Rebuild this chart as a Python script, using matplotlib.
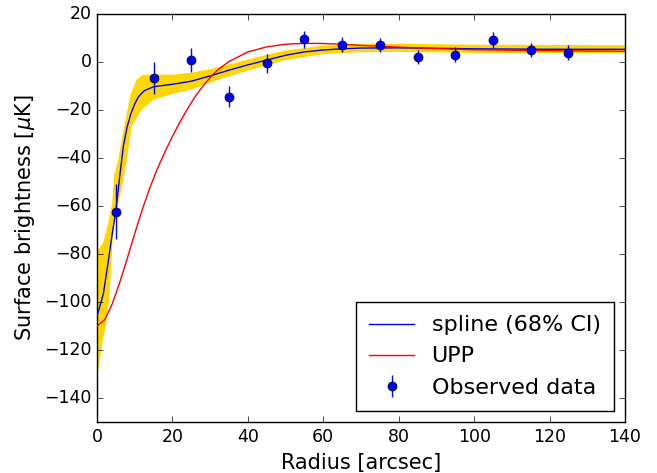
import numpy as np
import matplotlib
matplotlib.use("Agg")
import matplotlib.pyplot as plt

plt.style.use("classic")
plt.rcParams["mathtext.fontset"] = "dejavusans"

# Observed data
obs_r = [5, 15, 25, 35, 45, 55, 65, 75, 85, 95, 105, 115, 125]
obs_y = [-62.4, -6.7, 1.0, -14.4, -0.5, 9.4, 7.2, 7.2, 2.1, 3.1, 9.2, 5.0, 3.9]
obs_err = [11.5, 6.5, 5.0, 4.4, 4.0, 3.7, 3.2, 3.0, 3.0, 3.0, 3.2, 3.0, 3.0]

# Spline (median)
spl_r = [0, 1.7, 3, 4, 5, 6, 7, 8, 9, 10, 11, 12.5, 15, 20, 25, 30, 35, 40, 45,
         50, 55, 60, 65, 70, 80, 90, 100, 120, 140]
spl_y = [-106, -96.5, -83, -72, -62, -48, -35, -27, -21.5, -17.5, -14.5, -12,
         -10.3, -9.3, -8, -5.8, -3.4, -1.2, 0.8, 2.8, 4.2, 5.0, 5.5, 5.8, 5.9,
         5.7, 5.5, 5.3, 5.3]

# 68% CI band edges
ci_up_r = [0, 1.7, 3, 4, 4.6, 5.6, 7.2, 9, 10.5, 12, 15, 20, 25, 30, 35, 40,
           45, 50, 60, 70, 80, 100, 140]
ci_up_y = [-79, -75, -67, -59, -47, -41, -27, -13, -7.5, -5.4, -5.2, -5.3,
           -4.5, -3, -1, 1, 3, 4.8, 6.8, 7.6, 7.6, 7.2, 7.0]
ci_lo_r = [0, 1.5, 2.4, 3.3, 3.7, 4.2, 4.8, 5.2, 6.5, 7.9, 9.2, 11.8, 14.9,
           20.7, 25, 30, 35, 40, 50, 60, 70, 80, 100, 140]
ci_lo_y = [-133, -116, -110, -98, -87, -73, -66, -62, -53, -41, -27, -20,
           -15.8, -13, -11.5, -8.5, -6, -3.6, 0.8, 3.3, 4.1, 4.2, 3.8, 3.6]

# UPP model
upp_r = [0, 2, 4, 6, 8, 10, 12, 14, 16, 18, 20, 22, 24, 26, 28, 30, 32, 35,
         40, 45, 50, 55, 60, 65, 70, 80, 90, 100, 110, 120, 130, 140]
upp_y = [-110, -107.5, -101, -92, -82, -71.5, -61.5, -52.5, -44.5, -37.5, -31,
         -25, -19.5, -14.5, -10.2, -6.5, -3.3, 0.2, 4.2, 6.3, 7.4, 7.8, 7.7,
         7.4, 6.9, 6.2, 5.6, 5.1, 4.9, 4.7, 4.6, 4.5]

fig = plt.figure(figsize=(6.57, 4.73), dpi=100)
fig.patch.set_facecolor("white")
ax = fig.add_axes([97 / 657, 1 - 422 / 473, 528 / 657, 408 / 473])

band_x = np.concatenate([ci_up_r, ci_lo_r[::-1]])
band_y = np.concatenate([ci_up_y, ci_lo_y[::-1]])
ax.fill(band_x, band_y, color="#FFD700", lw=0, zorder=1)

ax.plot(spl_r, spl_y, color="b", lw=1, label="spline (68% CI)", zorder=3)
ax.plot(upp_r, upp_y, color="r", lw=1, label="UPP", zorder=3)
ax.errorbar(obs_r, obs_y, yerr=obs_err, fmt="o", color="b", mec="k",
            ms=6.5, capsize=0, elinewidth=1, label="Observed data", zorder=4)

ax.set_xlim(0, 140)
ax.set_ylim(-150, 20)
ax.set_xticks(np.arange(0, 141, 20))
ax.set_yticks(np.arange(-140, 21, 20))
ax.tick_params(labelsize=12.5)
ax.set_xlabel("Radius [arcsec]", fontsize=15)
ax.set_ylabel(r"Surface brightness [$\mu$K]", fontsize=15)

ax.legend(loc="lower right", numpoints=1, fontsize=16, fancybox=False,
          frameon=True, borderpad=0.6)

fig.savefig("out.png", dpi=100, facecolor="white")
